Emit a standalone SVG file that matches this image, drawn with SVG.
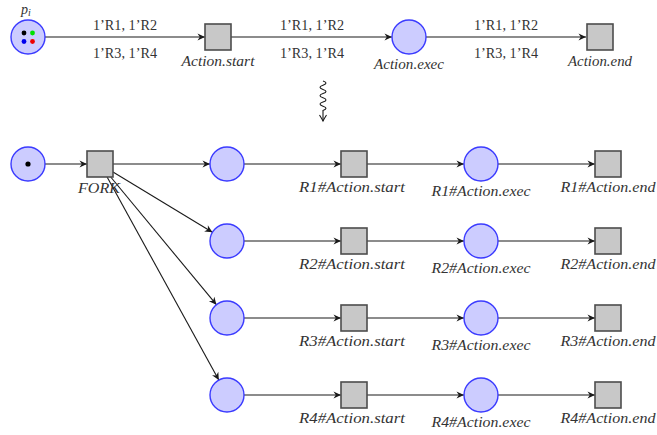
<svg xmlns="http://www.w3.org/2000/svg" width="657" height="435" viewBox="0 0 657 435">
  <style>
    .place { fill: #ccccff; stroke: #3b3bff; stroke-width: 1.4; }
    .trans { fill: #c8c8c8; stroke: #4d4d4d; stroke-width: 1.6; }
    .arc { fill: none; stroke: #1a1a1a; stroke-width: 1.1; marker-end: url(#tip); }
    .lbl { font-family: "Liberation Serif", "DejaVu Serif", serif; font-size: 14px; fill: #333; text-anchor: middle; }
    .it { font-style: italic; }
  </style>
  <defs>
    <marker id="tip" viewBox="-8 -5 10 10" refX="0" refY="0" markerWidth="10" markerHeight="10" markerUnits="userSpaceOnUse" orient="auto">
      <path d="M0,0 L-7.5,-3.6 L-5.2,0 L-7.5,3.6 Z" fill="#1a1a1a"/>
    </marker>
    <marker id="open" viewBox="-8 -5 10 10" refX="0" refY="0" markerWidth="10" markerHeight="10" markerUnits="userSpaceOnUse" orient="auto">
      <path d="M-6,-3.5 Q-2,-1 0,0 Q-2,1 -6,3.5" fill="none" stroke="#1a1a1a" stroke-width="1.1"/>
    </marker>
  </defs>

  <!-- connectors -->
  <g id="connectors">
    <!-- compact net -->
    <line class="arc" x1="45" y1="37" x2="205" y2="37"/>
    <line class="arc" x1="231" y1="37" x2="392" y2="37"/>
    <line class="arc" x1="426" y1="37" x2="586" y2="37"/>
    <!-- unfolding step -->
    <path d="M323,81 q6,2.1 0,4.2 t0,4.2 t0,4.2 t0,4.2 t0,4.2 t0,4.2 t0,4.2 L323,121" fill="none" stroke="#1a1a1a" stroke-width="1.1" marker-end="url(#open)"/>
    <!-- unfolded net -->
    <line class="arc" x1="45" y1="164" x2="87" y2="164"/>
    <line class="arc" x1="113" y1="164" x2="210" y2="164"/>
    <line class="arc" x1="113" y1="172" x2="212.4" y2="232.2"/>
    <line class="arc" x1="110.7" y1="177" x2="216.4" y2="304.7"/>
    <line class="arc" x1="107.1" y1="177" x2="218.8" y2="380"/>

    <line class="arc" x1="244" y1="164" x2="341" y2="164"/>
    <line class="arc" x1="367" y1="164" x2="464" y2="164"/>
    <line class="arc" x1="498" y1="164" x2="595" y2="164"/>

    <line class="arc" x1="244" y1="241" x2="341" y2="241"/>
    <line class="arc" x1="367" y1="241" x2="464" y2="241"/>
    <line class="arc" x1="498" y1="241" x2="595" y2="241"/>

    <line class="arc" x1="244" y1="318" x2="341" y2="318"/>
    <line class="arc" x1="367" y1="318" x2="464" y2="318"/>
    <line class="arc" x1="498" y1="318" x2="595" y2="318"/>

    <line class="arc" x1="244" y1="395" x2="341" y2="395"/>
    <line class="arc" x1="367" y1="395" x2="464" y2="395"/>
    <line class="arc" x1="498" y1="395" x2="595" y2="395"/>

    <!-- arc inscriptions -->
    <text class="lbl" x="125" y="30" textLength="64" lengthAdjust="spacingAndGlyphs">1’R1, 1’R2</text>
    <text class="lbl" x="125" y="58" textLength="64" lengthAdjust="spacingAndGlyphs">1’R3, 1’R4</text>
    <text class="lbl" x="312" y="30" textLength="64" lengthAdjust="spacingAndGlyphs">1’R1, 1’R2</text>
    <text class="lbl" x="312" y="58" textLength="64" lengthAdjust="spacingAndGlyphs">1’R3, 1’R4</text>
    <text class="lbl" x="506" y="30" textLength="64" lengthAdjust="spacingAndGlyphs">1’R1, 1’R2</text>
    <text class="lbl" x="506" y="58" textLength="64" lengthAdjust="spacingAndGlyphs">1’R3, 1’R4</text>
  </g>

  <!-- compact net nodes -->
  <g id="p_i">
    <circle class="place" cx="28" cy="37" r="17"/>
    <circle cx="24" cy="33" r="2.4" fill="#000"/>
    <circle cx="32.5" cy="33" r="2.4" fill="#00e000"/>
    <circle cx="24" cy="41.5" r="2.4" fill="#0000ee"/>
    <circle cx="32.5" cy="41.5" r="2.4" fill="#ee0000"/>
    <text class="lbl it" x="26" y="14">p<tspan font-size="10" dy="2">i</tspan></text>
  </g>
  <g id="action-start">
    <rect class="trans" x="205" y="24" width="26" height="26"/>
    <text class="lbl it" x="218" y="66" textLength="73" lengthAdjust="spacingAndGlyphs">Action.start</text>
  </g>
  <g id="action-exec">
    <circle class="place" cx="409" cy="37" r="17"/>
    <text class="lbl it" x="409" y="69" textLength="70" lengthAdjust="spacingAndGlyphs">Action.exec</text>
  </g>
  <g id="action-end">
    <rect class="trans" x="587" y="24" width="26" height="26"/>
    <text class="lbl it" x="600" y="66" textLength="64" lengthAdjust="spacingAndGlyphs">Action.end</text>
  </g>

  <!-- unfolded net nodes -->
  <g id="p0">
    <circle class="place" cx="28" cy="164" r="17"/>
    <circle cx="28" cy="164" r="2.6" fill="#000"/>
  </g>
  <g id="fork">
    <rect class="trans" x="87" y="151" width="26" height="26"/>
    <text class="lbl it" x="99" y="193" textLength="42" lengthAdjust="spacingAndGlyphs">FORK</text>
  </g>

  <g id="r1-place"><circle class="place" cx="227" cy="164" r="17"/></g>
  <g id="r1-start">
    <rect class="trans" x="341" y="151" width="26" height="26"/>
    <text class="lbl it" x="352" y="192" textLength="106" lengthAdjust="spacingAndGlyphs">R1#Action.start</text>
  </g>
  <g id="r1-exec">
    <circle class="place" cx="481" cy="164" r="17"/>
    <text class="lbl it" x="481" y="196" textLength="99" lengthAdjust="spacingAndGlyphs">R1#Action.exec</text>
  </g>
  <g id="r1-end">
    <rect class="trans" x="595" y="151" width="26" height="26"/>
    <text class="lbl it" x="608" y="192" textLength="95" lengthAdjust="spacingAndGlyphs">R1#Action.end</text>
  </g>

  <g id="r2-place"><circle class="place" cx="227" cy="241" r="17"/></g>
  <g id="r2-start">
    <rect class="trans" x="341" y="228" width="26" height="26"/>
    <text class="lbl it" x="352" y="269" textLength="106" lengthAdjust="spacingAndGlyphs">R2#Action.start</text>
  </g>
  <g id="r2-exec">
    <circle class="place" cx="481" cy="241" r="17"/>
    <text class="lbl it" x="481" y="273" textLength="99" lengthAdjust="spacingAndGlyphs">R2#Action.exec</text>
  </g>
  <g id="r2-end">
    <rect class="trans" x="595" y="228" width="26" height="26"/>
    <text class="lbl it" x="608" y="269" textLength="95" lengthAdjust="spacingAndGlyphs">R2#Action.end</text>
  </g>

  <g id="r3-place"><circle class="place" cx="227" cy="318" r="17"/></g>
  <g id="r3-start">
    <rect class="trans" x="341" y="305" width="26" height="26"/>
    <text class="lbl it" x="352" y="346" textLength="106" lengthAdjust="spacingAndGlyphs">R3#Action.start</text>
  </g>
  <g id="r3-exec">
    <circle class="place" cx="481" cy="318" r="17"/>
    <text class="lbl it" x="481" y="350" textLength="99" lengthAdjust="spacingAndGlyphs">R3#Action.exec</text>
  </g>
  <g id="r3-end">
    <rect class="trans" x="595" y="305" width="26" height="26"/>
    <text class="lbl it" x="608" y="346" textLength="95" lengthAdjust="spacingAndGlyphs">R3#Action.end</text>
  </g>

  <g id="r4-place"><circle class="place" cx="227" cy="395" r="17"/></g>
  <g id="r4-start">
    <rect class="trans" x="341" y="382" width="26" height="26"/>
    <text class="lbl it" x="352" y="423" textLength="106" lengthAdjust="spacingAndGlyphs">R4#Action.start</text>
  </g>
  <g id="r4-exec">
    <circle class="place" cx="481" cy="395" r="17"/>
    <text class="lbl it" x="481" y="427" textLength="99" lengthAdjust="spacingAndGlyphs">R4#Action.exec</text>
  </g>
  <g id="r4-end">
    <rect class="trans" x="595" y="382" width="26" height="26"/>
    <text class="lbl it" x="608" y="423" textLength="95" lengthAdjust="spacingAndGlyphs">R4#Action.end</text>
  </g>
</svg>
